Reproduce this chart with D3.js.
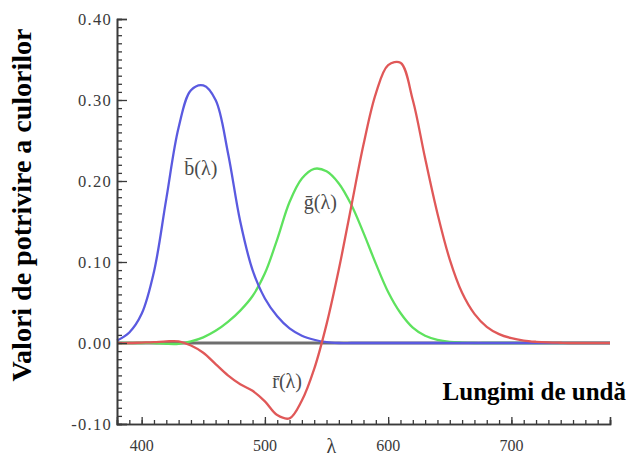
<!DOCTYPE html>
<html><head><meta charset="utf-8">
<script src="https://cdn.jsdelivr.net/npm/d3@7"></script>
<style>
html,body{margin:0;padding:0;background:#fff;}
svg{display:block;}
</style></head>
<body>
<svg id="chart" width="635" height="460"></svg>
<script>
// wavelengths (nm)
const wavelengths = [380,390,400,410,420,430,440,450,460,470,480,490,500,510,520,530,540,550,560,570,580,590,600,610,620,630,640,650,660,670,680,690,700,710,720,730,740,750,760,770,780];
// r̄(λ)
const redValues = [0,0,0.0005,0.001,0.002,0.002,-0.003,-0.012,-0.026,-0.040,-0.051,-0.059,-0.072,-0.089,-0.093,-0.071,-0.032,0.023,0.091,0.168,0.245,0.308,0.343,0.346,0.300,0.228,0.160,0.103,0.062,0.036,0.020,0.011,0.006,0.003,0.0015,0.0007,0.0003,0,0,0,0];
// ḡ(λ)
const greenValues = [0,0,0,0,-0.001,-0.001,0.002,0.007,0.015,0.026,0.040,0.058,0.086,0.128,0.174,0.203,0.215,0.212,0.197,0.171,0.136,0.098,0.063,0.037,0.019,0.009,0.004,0.0015,0.0005,0,0,0,0,0,0,0,0,0,0,0,0];
// b̄(λ)
const blueValues = [0.003,0.013,0.036,0.088,0.178,0.266,0.312,0.318,0.300,0.235,0.150,0.090,0.055,0.033,0.018,0.009,0.004,0.001,0,0,0,0,0,0,0,0,0,0,0,0,0,0,0,0,0,0,0,0,0,0,0];

const xTickValues = [400,500,600,700];
const xTickLabels = ["400","500","600","700"];
const yTickValues = [-0.1,0,0.1,0.2,0.3,0.4];
const yTickLabels = ["-0.10","0.00","0.10","0.20","0.30","0.40"];

const seriesNames = ["g","b","r"];
const seriesLabels = ["g\u0304(\u03bb)","b\u0304(\u03bb)","r\u0304(\u03bb)"];
const seriesLabelAt = [[545,0.165],[448,0.207],[518,-0.056]];

const svg = d3.select("#chart");
const x = d3.scaleLinear().domain([380,780]).range([117,610]);
const y = d3.scaleLinear().domain([-0.1,0.4]).range([424,19]);

const serif = "'Liberation Serif','Times New Roman','DejaVu Serif',serif";

// zero line
svg.append("line")
  .attr("x1", x(380)).attr("x2", x(780))
  .attr("y1", y(0)).attr("y2", y(0))
  .attr("stroke", "#6e6e6e").attr("stroke-width", 2.8);

const colors = {r:"#e05858", g:"#5ee25e", b:"#5a5ae0"};
const valuesOf = {r:redValues, g:greenValues, b:blueValues};

const line = d3.line()
  .x((d,i)=>x(wavelengths[i]))
  .y(d=>y(d))
  .curve(d3.curveCatmullRom.alpha(0.5));

seriesNames.forEach(k=>{
  svg.append("path")
    .datum(valuesOf[k])
    .attr("d", line)
    .attr("fill","none")
    .attr("stroke", colors[k])
    .attr("stroke-width", 2.3)
    .attr("stroke-linejoin","round");
});

// axes
const axisColor = "#3a3a3a";
const yAxisMinor = d3.axisRight(y).tickValues(d3.range(-10,41).map(v=>v/100)).tickSize(5).tickFormat("");
const gyMinor = svg.append("g").attr("transform",`translate(${x(380)},0)`).call(yAxisMinor);
const yAxisMajor = d3.axisRight(y).tickValues(yTickValues).tickSize(10).tickFormat("");
const gyMajor = svg.append("g").attr("transform",`translate(${x(380)},0)`).call(yAxisMajor);
[gyMinor,gyMajor].forEach(g=>{
  g.selectAll("line").attr("stroke",axisColor).attr("stroke-width",1.3);
  g.select(".domain").attr("stroke",axisColor).attr("stroke-width",1.6);
});

const xAxisMinor = d3.axisTop(x).tickValues(d3.range(380,781,10)).tickSize(4).tickFormat("");
const gxMinor = svg.append("g").attr("transform",`translate(0,${y(-0.1)})`).call(xAxisMinor);
const xAxisMajor = d3.axisTop(x).tickValues(xTickValues).tickSize(7).tickFormat("");
const gxMajor = svg.append("g").attr("transform",`translate(0,${y(-0.1)})`).call(xAxisMajor);
[gxMinor,gxMajor].forEach(g=>{
  g.selectAll("line").attr("stroke",axisColor).attr("stroke-width",1.3);
  g.select(".domain").attr("stroke",axisColor).attr("stroke-width",1.6);
});

// tick labels
svg.append("g").selectAll("text").data(yTickValues).join("text")
  .attr("x", 112).attr("y", d=>y(d)+5.5)
  .attr("text-anchor","end")
  .attr("font-family", serif).attr("font-size", 16.5)
  .attr("letter-spacing", 1.3)
  .attr("fill","#3a3a3a")
  .text((d,i)=>yTickLabels[i]);

svg.append("g").selectAll("text").data(xTickValues).join("text")
  .attr("x", d=>x(d)).attr("y", 451)
  .attr("text-anchor","middle")
  .attr("font-family", serif).attr("font-size", 16)
  .attr("fill","#3a3a3a")
  .text((d,i)=>xTickLabels[i]);

// lambda symbol under axis
svg.append("text").attr("x", x(554)).attr("y", 453)
  .attr("text-anchor","middle").attr("font-family", serif)
  .attr("font-size", 20).attr("fill","#3a3a3a").text("\u03bb");

// series labels
svg.append("g").selectAll("text").data(seriesNames).join("text")
  .attr("x",(d,i)=>x(seriesLabelAt[i][0]))
  .attr("y",(d,i)=>y(seriesLabelAt[i][1]))
  .attr("text-anchor","middle")
  .attr("font-family", serif).attr("font-size", 20)
  .attr("fill","#4a4a4a")
  .text((d,i)=>seriesLabels[i]);

// axis titles
svg.append("text").attr("x", 626).attr("y", 400)
  .attr("text-anchor","end").attr("font-family", serif)
  .attr("font-weight","bold").attr("font-size", 25).attr("fill","#000")
  .text("Lungimi de undă");

svg.append("text")
  .attr("transform","translate(31,205) rotate(-90)")
  .attr("text-anchor","middle").attr("font-family", serif)
  .attr("font-weight","bold").attr("font-size", 28).attr("fill","#000")
  .text("Valori de potrivire a culorilor");
</script>
</body></html>
